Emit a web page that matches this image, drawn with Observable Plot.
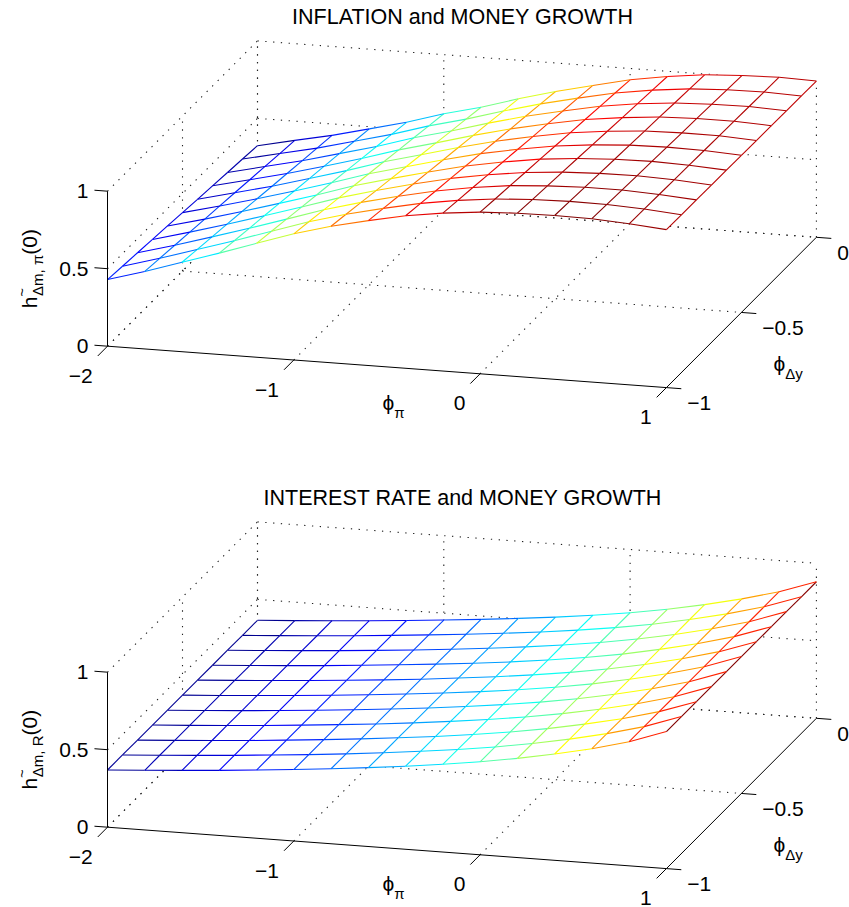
<!DOCTYPE html>
<html>
<head>
<meta charset="utf-8">
<script src="https://cdn.jsdelivr.net/npm/d3@7"></script>
<script src="https://cdn.jsdelivr.net/npm/@observablehq/plot@0.6"></script>
<style>
  html, body { margin: 0; padding: 0; background: #fff; }
  body { font-family: "Liberation Sans", Arial, Helvetica, sans-serif; width: 849px; }
  .title { height: 36px; box-sizing: border-box; padding-top: 4px; padding-left: 76px;
           text-align: center; font-size: 21.5px; line-height: 26px; color: #000; white-space: nowrap; }
  svg { display: block; }
</style>
</head>
<body>
<div id="root"></div>
<script>
// ---------------- data ----------------
const phiPi = [-2, -1.8, -1.6, -1.4, -1.2, -1, -0.8, -0.6, -0.4, -0.2, 0, 0.2, 0.4, 0.6, 0.8, 1];
const phiDy = [-1, -0.9, -0.8, -0.7, -0.6, -0.5, -0.4, -0.3, -0.2, -0.1, 0];

// rows: phiDy (from -1 to 0), columns: phiPi (from -2 to 1)
const zInflation = [
  [0.430, 0.500, 0.577, 0.654, 0.735, 0.814, 0.881, 0.935, 0.984, 1.019, 1.043, 1.054, 1.057, 1.054, 1.039, 1.019],
  [0.419, 0.488, 0.562, 0.637, 0.716, 0.795, 0.861, 0.917, 0.967, 1.004, 1.031, 1.045, 1.051, 1.049, 1.037, 1.018],
  [0.409, 0.475, 0.547, 0.620, 0.697, 0.775, 0.841, 0.898, 0.950, 0.990, 1.020, 1.036, 1.045, 1.045, 1.034, 1.017],
  [0.398, 0.463, 0.532, 0.604, 0.678, 0.755, 0.820, 0.880, 0.934, 0.975, 1.008, 1.028, 1.038, 1.040, 1.032, 1.016],
  [0.388, 0.450, 0.517, 0.587, 0.659, 0.736, 0.800, 0.861, 0.917, 0.961, 0.997, 1.019, 1.032, 1.036, 1.029, 1.015],
  [0.377, 0.438, 0.502, 0.570, 0.641, 0.717, 0.780, 0.843, 0.900, 0.946, 0.985, 1.010, 1.026, 1.031, 1.027, 1.014],
  [0.366, 0.426, 0.486, 0.553, 0.622, 0.697, 0.760, 0.825, 0.883, 0.931, 0.973, 1.001, 1.020, 1.026, 1.025, 1.012],
  [0.356, 0.413, 0.471, 0.536, 0.603, 0.677, 0.740, 0.806, 0.866, 0.917, 0.962, 0.992, 1.014, 1.022, 1.022, 1.011],
  [0.345, 0.401, 0.456, 0.520, 0.584, 0.658, 0.719, 0.788, 0.850, 0.902, 0.950, 0.984, 1.007, 1.017, 1.020, 1.010],
  [0.335, 0.388, 0.441, 0.503, 0.565, 0.638, 0.699, 0.769, 0.833, 0.888, 0.939, 0.975, 1.001, 1.013, 1.017, 1.009],
  [0.324, 0.376, 0.426, 0.486, 0.546, 0.619, 0.679, 0.751, 0.816, 0.873, 0.927, 0.966, 0.995, 1.008, 1.015, 1.008]
];

const zInterest = [
  [0.369, 0.385, 0.402, 0.420, 0.440, 0.461, 0.484, 0.509, 0.536, 0.566, 0.600, 0.640, 0.686, 0.738, 0.801, 0.884],
  [0.369, 0.385, 0.402, 0.420, 0.440, 0.460, 0.483, 0.508, 0.535, 0.565, 0.599, 0.639, 0.685, 0.738, 0.801, 0.884],
  [0.368, 0.384, 0.401, 0.419, 0.439, 0.460, 0.483, 0.508, 0.534, 0.564, 0.598, 0.638, 0.685, 0.737, 0.801, 0.883],
  [0.368, 0.384, 0.401, 0.419, 0.439, 0.460, 0.482, 0.507, 0.534, 0.564, 0.598, 0.638, 0.684, 0.737, 0.800, 0.883],
  [0.367, 0.383, 0.400, 0.418, 0.438, 0.459, 0.482, 0.506, 0.533, 0.563, 0.597, 0.637, 0.684, 0.737, 0.800, 0.883],
  [0.367, 0.383, 0.400, 0.418, 0.438, 0.459, 0.481, 0.506, 0.532, 0.562, 0.596, 0.636, 0.683, 0.737, 0.800, 0.883],
  [0.367, 0.383, 0.400, 0.418, 0.437, 0.458, 0.480, 0.505, 0.531, 0.561, 0.595, 0.635, 0.682, 0.736, 0.800, 0.882],
  [0.366, 0.382, 0.399, 0.417, 0.437, 0.458, 0.480, 0.504, 0.530, 0.560, 0.594, 0.634, 0.682, 0.736, 0.800, 0.882],
  [0.366, 0.382, 0.399, 0.417, 0.436, 0.457, 0.479, 0.503, 0.530, 0.560, 0.594, 0.634, 0.681, 0.736, 0.799, 0.882],
  [0.365, 0.381, 0.398, 0.416, 0.436, 0.457, 0.479, 0.503, 0.529, 0.559, 0.593, 0.633, 0.681, 0.735, 0.799, 0.881],
  [0.365, 0.381, 0.398, 0.416, 0.435, 0.456, 0.478, 0.502, 0.528, 0.558, 0.592, 0.632, 0.680, 0.735, 0.799, 0.881]
];

const piTicks = [-2, -1, 0, 1];
const dyTicks = [-1, -0.5, 0];
const zTicks = [0, 0.5, 1];

const titles = ["INFLATION and MONEY GROWTH", "INTEREST RATE and MONEY GROWTH"];
const zLabelSubs = ["Δm, π", "Δm, R"];

// ---------------- style / view ----------------
// orthographic view: screen units per data unit along each axis
const view = {ax: 186.3, ay: -13.8, bx: 150, by: 150.3, cz: 155};
const jetStops = [0, 0.111, 0.365, 0.619, 0.873, 1];
const jetColors = ["#00008f", "#0000ff", "#00ffff", "#ffff00", "#ff0000", "#800000"];
const FONT = "'Liberation Sans', Arial, Helvetica, sans-serif";
const tickFont = 21;

const fmt = v => String(v).replace("-", "\u2212");

function chart(Z, zSub, H) {
  const P = (p, d, z) => ({x: view.ax * p + view.bx * d, y: view.ay * p + view.by * d + view.cz * z});
  const seg = (a, b, extra = {}) => {
    const A = P(...a), B = P(...b);
    return {x1: A.x, y1: A.y, x2: B.x, y2: B.y, ...extra};
  };
  const [p0, p1] = d3.extent(piTicks);
  const [d0, d1] = d3.extent(dyTicks);
  const [z0, z1] = d3.extent(zTicks);

  // dotted grid on back wall, left wall and floor
  const grid = [];
  piTicks.forEach(p => {
    grid.push(seg([p, d1, z0], [p, d1, z1]));
    if (p !== p1) grid.push(seg([p, d0, z0], [p, d1, z0]));
  });
  dyTicks.forEach(d => {
    if (d !== d0) {
      grid.push(seg([p0, d, z0], [p0, d, z1]));
      grid.push(seg([p0, d, z0], [p1, d, z0]));
    }
  });
  zTicks.forEach(z => {
    grid.push(seg([p0, d1, z], [p1, d1, z]));
    grid.push(seg([p0, d0, z], [p0, d1, z]));
  });

  // surface faces (white) and colored mesh edges
  const faces = [];
  const edges = [];
  for (let j = 0; j < phiDy.length; j++) {
    for (let i = 0; i < phiPi.length; i++) {
      const v = [phiPi[i], phiDy[j], Z[j][i]];
      if (i < phiPi.length - 1) edges.push(seg(v, [phiPi[i + 1], phiDy[j], Z[j][i + 1]], {z: Z[j][i]}));
      if (j < phiDy.length - 1) edges.push(seg(v, [phiPi[i], phiDy[j + 1], Z[j + 1][i]], {z: Z[j][i]}));
      if (i < phiPi.length - 1 && j < phiDy.length - 1) {
        const id = j * 100 + i;
        [[i, j], [i + 1, j], [i + 1, j + 1], [i, j + 1]].forEach(([a, b]) => {
          faces.push({id, ...P(phiPi[a], phiDy[b], Z[b][a])});
        });
      }
    }
  }

  // axes and ticks
  const axes = [
    seg([p0, d0, z0], [p1, d0, z0]),
    seg([p1, d0, z0], [p1, d1, z0]),
    seg([p0, d0, z0], [p0, d0, z1])
  ];
  piTicks.forEach(p => axes.push(seg([p, d0, z0], [p, d0 - 0.065, z0])));
  dyTicks.forEach(d => axes.push(seg([p1, d, z0], [p1 + 0.08, d, z0])));
  zTicks.forEach(z => axes.push(seg([p0, d0, z], [p0 - 0.07, d0, z])));

  const piLabels = piTicks.map(p => ({...P(p, d0 - 0.065, z0), t: fmt(p)}));
  const dyLabels = dyTicks.map(d => ({...P(p1 + 0.08, d, z0), t: fmt(d)}));
  const zLabels = zTicks.map(z => ({...P(p0 - 0.07, d0, z), t: fmt(z)}));

  const piName = [{...P((p0 + p1) / 2, d0, z0), t: "ϕπ"}];
  const dyName = [{...P(p1, (d0 + d1) / 2, z0), t: "ϕΔy"}];
  const zName = [{...P(p0, d0, (z0 + z1) / 2), t: "h~" + zSub + "(0)"}];

  const [zmin, zmax] = d3.extent(Z.flat());

  const svg = Plot.plot({
    width: 849,
    height: H,
    margin: 0,
    style: {fontFamily: FONT, fontSize: tickFont + "px", background: "white", color: "black", overflow: "visible"},
    x: {domain: [-629.6, 219.4], range: [0, 849], axis: null},
    y: {domain: [187 - H, 187], range: [H, 0], axis: null},
    color: {type: "linear", domain: jetStops.map(t => zmin + t * (zmax - zmin)), range: jetColors, interpolate: "rgb"},
    marks: [
      Plot.link(grid, {x1: "x1", y1: "y1", x2: "x2", y2: "y2", stroke: "#222", strokeWidth: 1.1, strokeDasharray: "1.3,6.5"}),
      Plot.line(faces, {x: "x", y: "y", z: "id", fill: "white", stroke: "white", strokeWidth: 0.6}),
      Plot.link(edges, {x1: "x1", y1: "y1", x2: "x2", y2: "y2", stroke: "z", strokeWidth: 1.1}),
      Plot.link(axes, {x1: "x1", y1: "y1", x2: "x2", y2: "y2", stroke: "black", strokeWidth: 1}),
      Plot.text(piLabels, {x: "x", y: "y", text: "t", textAnchor: "end", dx: -5, dy: 20, fontSize: tickFont, fill: "black"}),
      Plot.text(dyLabels, {x: "x", y: "y", text: "t", textAnchor: "start", dx: 6, dy: 15, fontSize: tickFont, fill: "black"}),
      Plot.text(zLabels, {x: "x", y: "y", text: "t", textAnchor: "end", dx: -6, dy: 1.5, fontSize: tickFont, fill: "black"}),
      Plot.text(piName, {x: "x", y: "y", text: "t", textAnchor: "middle", dx: 6.5, dy: 36, fontSize: tickFont, fill: "black"}),
      Plot.text(dyName, {x: "x", y: "y", text: "t", textAnchor: "start", dx: 32, dy: 51.5, fontSize: tickFont, fill: "black"}),
      Plot.text(zName, {x: "x", y: "y", text: "t", textAnchor: "middle", rotate: -90, dx: -77, dy: 0, fontSize: tickFont, fill: "black"})
    ]
  });

  // typeset the sub/superscripts of the axis names
  const NS = "http://www.w3.org/2000/svg";
  const span = (parent, txt, attrs) => {
    const s = document.createElementNS(NS, "tspan");
    for (const k in attrs) s.setAttribute(k, attrs[k]);
    s.textContent = txt;
    parent.appendChild(s);
  };
  svg.querySelectorAll("text").forEach(t => {
    const s = t.textContent;
    if (s === "ϕπ") {
      t.textContent = "";
      span(t, "ϕ", {});
      span(t, "π", {"font-size": 15, dy: 8});
    } else if (s === "ϕΔy") {
      t.textContent = "";
      span(t, "ϕ", {});
      span(t, "Δy", {"font-size": 15, dy: 8});
    } else if (s === "h~" + zSub + "(0)") {
      t.textContent = "";
      span(t, "h", {});
      span(t, "~", {"font-size": 15, dy: -10});
      span(t, zSub, {"font-size": 15, dx: -8, dy: 16});
      span(t, "(0)", {dy: -6});
    }
  });
  return svg;
}

const root = document.getElementById("root");
const blocks = [
  {title: titles[0], Z: zInflation, sub: zLabelSubs[0], H: 444.5},
  {title: titles[1], Z: zInterest, sub: zLabelSubs[1], H: 390.5}
];
blocks.forEach(b => {
  const t = document.createElement("div");
  t.className = "title";
  t.textContent = b.title;
  root.appendChild(t);
  root.appendChild(chart(b.Z, b.sub, b.H));
});
</script>
</body>
</html>
